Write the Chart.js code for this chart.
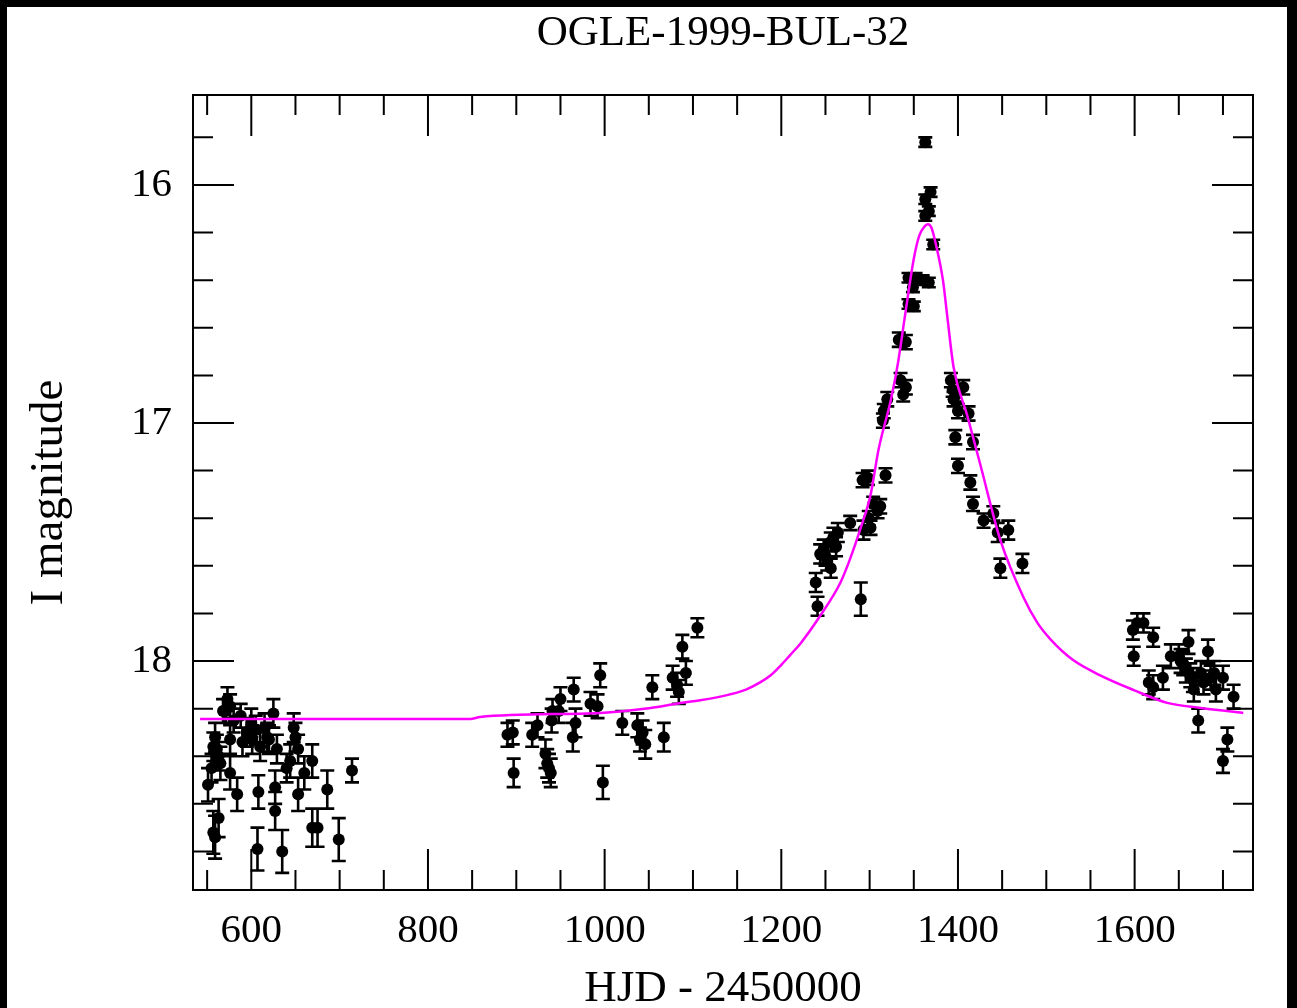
<!DOCTYPE html>
<html>
<head>
<meta charset="utf-8">
<title>OGLE-1999-BUL-32</title>
<script src="https://cdn.jsdelivr.net/npm/chart.js@4/dist/chart.umd.min.js"></script>
<style>
  body { margin: 0; background: #fff; }
  #wrap { width: 1297px; height: 1008px; }
</style>
</head>
<body>
<div id="wrap"><canvas id="lightCurve" width="1297" height="1008"></canvas></div>
<script>
// observations: HJD - 2450000, I magnitude, error
const hjd = [
  551, 555, 557, 557, 559, 559, 561, 563, 563, 565, 568, 571, 573, 576, 576, 576, 580, 584, 588, 590,
  595, 600, 601, 605, 607, 608, 610, 615, 618, 620, 625, 627, 627, 629, 635, 640, 644, 648, 650, 653,
  653, 660, 669, 669, 675, 686, 699, 714,
  890, 896, 897, 918, 924, 933, 935, 937, 939, 940, 941, 948, 950, 964, 965, 967, 984, 992, 995, 998,
  1020, 1037, 1040, 1043, 1046, 1054, 1067, 1077, 1082, 1084, 1088, 1092, 1105,
  1239, 1241, 1244, 1248, 1250, 1252, 1256, 1256, 1259, 1262, 1264, 1278, 1290, 1292, 1293, 1298, 1299, 1301, 1304, 1309,
  1312, 1315, 1316, 1318, 1320, 1333, 1335, 1338, 1341, 1341, 1344, 1344, 1349, 1350, 1352, 1360, 1363, 1363, 1363, 1367,
  1367, 1369, 1372,
  1392, 1394, 1395, 1397, 1398, 1400, 1400, 1406, 1412, 1414, 1417, 1417, 1429, 1440, 1445, 1448, 1457, 1473,
  1598, 1599, 1603, 1610, 1616, 1621, 1621, 1632, 1641, 1650, 1652, 1655, 1658, 1661, 1663, 1666, 1667, 1672, 1675, 1678,
  1683, 1686, 1690, 1692, 1700, 1700, 1705, 1712
];
const iMag = [
  18.52, 18.45, 18.36, 18.72, 18.32, 18.74, 18.37, 18.40, 18.66, 18.43, 18.21, 18.21, 18.16, 18.19, 18.33, 18.47, 18.25, 18.56, 18.23, 18.34,
  18.30, 18.26, 18.33, 18.29, 18.79, 18.55, 18.36, 18.28, 18.32, 18.33, 18.22, 18.53, 18.63, 18.37, 18.80, 18.45, 18.42, 18.28, 18.32, 18.37,
  18.56, 18.47, 18.42, 18.70, 18.70, 18.54, 18.75, 18.46,
  18.31, 18.30, 18.47, 18.31, 18.27, 18.39, 18.43, 18.45, 18.47, 18.25, 18.21, 18.21, 18.16, 18.32, 18.12, 18.26, 18.18, 18.19, 18.06, 18.51,
  18.26, 18.27, 18.33, 18.30, 18.35, 18.11, 18.32, 18.07, 18.10, 18.13, 17.94, 18.05, 17.86,
  17.67, 17.77, 17.55, 17.53, 17.56, 17.58, 17.50, 17.61, 17.48, 17.52, 17.46, 17.42, 17.74, 17.24, 17.45, 17.23, 17.40, 17.44, 17.34, 17.37,
  17.35, 16.99, 16.95, 17.22, 16.90, 16.65, 16.82, 16.88, 16.66, 16.85, 16.39, 16.50, 16.43, 16.51, 16.39, 16.40, 15.82, 16.06, 16.13, 16.11,
  16.41, 16.03, 16.25,
  16.82, 16.86, 16.90, 17.06, 16.88, 16.95, 17.18, 16.85, 16.96, 17.25, 17.08, 17.34, 17.41, 17.38, 17.46, 17.61, 17.45, 17.59,
  17.87, 17.98, 17.84, 17.84, 18.09, 17.90, 18.11, 18.07, 17.98, 17.98, 18.00, 18.01, 18.04, 17.92, 18.06, 18.08, 18.12, 18.25, 18.05, 18.09,
  17.96, 18.07, 18.05, 18.12, 18.07, 18.42, 18.33, 18.15
];
const iErr = [
  0.07, 0.06, 0.06, 0.09, 0.06, 0.09, 0.06, 0.06, 0.08, 0.07, 0.05, 0.05, 0.05, 0.05, 0.06, 0.07, 0.05, 0.07, 0.05, 0.06,
  0.06, 0.06, 0.06, 0.06, 0.09, 0.07, 0.06, 0.06, 0.06, 0.06, 0.06, 0.07, 0.08, 0.06, 0.09, 0.06, 0.07, 0.06, 0.06, 0.06,
  0.07, 0.07, 0.07, 0.08, 0.08, 0.08, 0.09, 0.05,
  0.05, 0.05, 0.06, 0.05, 0.05, 0.06, 0.06, 0.06, 0.06, 0.05, 0.05, 0.05, 0.05, 0.06, 0.05, 0.06, 0.05, 0.05, 0.05, 0.07,
  0.05, 0.05, 0.05, 0.05, 0.06, 0.05, 0.06, 0.05, 0.05, 0.05, 0.05, 0.05, 0.04,
  0.04, 0.04, 0.04, 0.04, 0.04, 0.04, 0.04, 0.04, 0.04, 0.04, 0.04, 0.03, 0.07, 0.03, 0.04, 0.03, 0.03, 0.03, 0.03, 0.03,
  0.03, 0.03, 0.03, 0.03, 0.03, 0.03, 0.03, 0.03, 0.03, 0.03, 0.02, 0.02, 0.02, 0.02, 0.02, 0.02, 0.02, 0.02, 0.02, 0.02,
  0.02, 0.02, 0.02,
  0.03, 0.03, 0.03, 0.03, 0.03, 0.03, 0.03, 0.03, 0.03, 0.03, 0.03, 0.03, 0.03, 0.03, 0.04, 0.04, 0.04, 0.04,
  0.04, 0.04, 0.04, 0.04, 0.05, 0.04, 0.05, 0.05, 0.05, 0.05, 0.05, 0.05, 0.05, 0.05, 0.05, 0.05, 0.05, 0.05, 0.05, 0.05,
  0.05, 0.05, 0.05, 0.05, 0.05, 0.05, 0.05, 0.05
];

// model curve
const fitHjd = [542, 848, 859, 995, 1052, 1086, 1108, 1142, 1160, 1176, 1188, 1199, 1210, 1222, 1244, 1267, 1278, 1290, 1301, 1310, 1324, 1332,
  1340, 1350, 1356, 1362, 1366, 1370, 1375, 1383, 1388, 1395, 1411, 1426, 1448, 1474, 1490, 1505, 1530, 1561, 1599, 1637, 1675, 1723];
const fitMag = [18.244, 18.244, 18.235, 18.218, 18.197, 18.176, 18.165, 18.14, 18.12, 18.09, 18.06, 18.02, 17.975, 17.925, 17.81, 17.67, 17.57, 17.44, 17.303, 17.113, 16.903, 16.75,
  16.55, 16.31, 16.215, 16.175, 16.165, 16.18, 16.25, 16.40, 16.555, 16.765, 16.975, 17.185, 17.492, 17.731, 17.84, 17.91, 17.995, 18.06, 18.122, 18.176, 18.197, 18.218];

const xTicks = [600, 800, 1000, 1200, 1400, 1600];
const yTicks = [16, 17, 18];
const xMin = 534, xMax = 1734;
const yMin = 15.622, yMax = 18.962;

const serif = 'Liberation Serif';

const obsPoints = hjd.map((d, i) => ({ x: d, y: iMag[i] }));
const fitPoints = fitHjd.map((d, i) => ({ x: d, y: fitMag[i] }));

// black frame round the picture
const pageFrame = {
  id: 'pageFrame',
  beforeDraw(chart) {
    const ctx = chart.ctx;
    ctx.save();
    ctx.fillStyle = '#000';
    ctx.fillRect(0, 0, chart.width, chart.height);
    ctx.fillStyle = '#fff';
    ctx.fillRect(7, 7, 1280, chart.height - 7);
    ctx.restore();
  }
};

// vertical error bars with caps
const errorBars = {
  id: 'errorBars',
  beforeDatasetsDraw(chart) {
    const { ctx, chartArea: a, scales: { x, y } } = chart;
    ctx.save();
    ctx.beginPath();
    ctx.rect(a.left, a.top, a.right - a.left, a.bottom - a.top);
    ctx.clip();
    ctx.strokeStyle = '#000';
    ctx.lineWidth = 2.6;
    ctx.beginPath();
    hjd.forEach((d, i) => {
      const px = x.getPixelForValue(d);
      const y1 = y.getPixelForValue(iMag[i] - iErr[i]);
      const y2 = y.getPixelForValue(iMag[i] + iErr[i]);
      ctx.moveTo(px, y1); ctx.lineTo(px, y2);
      ctx.moveTo(px - 7, y1); ctx.lineTo(px + 7, y1);
      ctx.moveTo(px - 7, y2); ctx.lineTo(px + 7, y2);
    });
    ctx.stroke();
    ctx.restore();
  }
};

// box with inward ticks on all four sides
const boxTicks = {
  id: 'boxTicks',
  afterDraw(chart) {
    const { ctx, chartArea: a, scales: { x, y } } = chart;
    ctx.save();
    ctx.strokeStyle = '#000';
    ctx.lineWidth = 2;
    ctx.strokeRect(a.left, a.top, a.right - a.left, a.bottom - a.top);
    ctx.beginPath();
    for (let v = 550; v < xMax; v += 50) {
      const px = x.getPixelForValue(v);
      const len = v % 200 === 0 ? 41 : 20;
      ctx.moveTo(px, a.bottom); ctx.lineTo(px, a.bottom - len);
      ctx.moveTo(px, a.top); ctx.lineTo(px, a.top + len);
    }
    for (let k = 79; k <= 94; k++) {
      const py = y.getPixelForValue(k / 5);
      const len = k % 5 === 0 ? 41 : 20;
      ctx.moveTo(a.left, py); ctx.lineTo(a.left + len, py);
      ctx.moveTo(a.right, py); ctx.lineTo(a.right - len, py);
    }
    ctx.stroke();
    ctx.restore();
  }
};

new Chart(document.getElementById('lightCurve'), {
  type: 'scatter',
  data: {
    datasets: [
      {
        label: 'model',
        data: fitPoints,
        showLine: true,
        borderColor: '#ff00ff',
        borderWidth: 2.5,
        pointRadius: 0,
        cubicInterpolationMode: 'monotone',
        order: 0
      },
      {
        label: 'OGLE I',
        data: obsPoints,
        pointRadius: 6,
        pointHoverRadius: 6,
        backgroundColor: '#000',
        borderWidth: 0,
        order: 1
      }
    ]
  },
  options: {
    responsive: false,
    animation: false,
    layout: { padding: { right: 44 } },
    plugins: {
      legend: { display: false },
      tooltip: { enabled: false },
      title: {
        display: true,
        fullSize: false,
        text: 'OGLE-1999-BUL-32',
        color: '#000',
        font: { family: serif, size: 43, weight: 'normal', lineHeight: 1.2 },
        padding: { top: 8, bottom: 35.4 }
      }
    },
    scales: {
      x: {
        type: 'linear',
        position: 'bottom',
        min: xMin,
        max: xMax,
        grid: { display: false, drawTicks: false },
        border: { display: false },
        afterBuildTicks: s => { s.ticks = xTicks.map(v => ({ value: v })); },
        afterFit: s => { s.height = 118; },
        ticks: {
          color: '#000',
          padding: 17,
          maxRotation: 0,
          font: { family: serif, size: 41 },
          callback: v => String(v)
        },
        title: {
          display: true,
          text: 'HJD - 2450000',
          color: '#000',
          font: { family: serif, size: 45, lineHeight: 0.84 },
          padding: 0
        }
      },
      y: {
        type: 'linear',
        reverse: true,
        min: yMin,
        max: yMax,
        grid: { display: false, drawTicks: false },
        border: { display: false },
        afterBuildTicks: s => { s.ticks = yTicks.map(v => ({ value: v })); },
        afterFit: s => { s.width = 193; },
        ticks: {
          color: '#000',
          padding: 21,
          font: { family: serif, size: 41 },
          callback: v => String(v)
        },
        title: {
          display: true,
          text: 'I magnitude',
          color: '#000',
          font: { family: serif, size: 47, lineHeight: 1.2 },
          padding: { top: 21, bottom: 0 }
        }
      }
    }
  },
  plugins: [pageFrame, errorBars, boxTicks]
});
</script>
</body>
</html>
